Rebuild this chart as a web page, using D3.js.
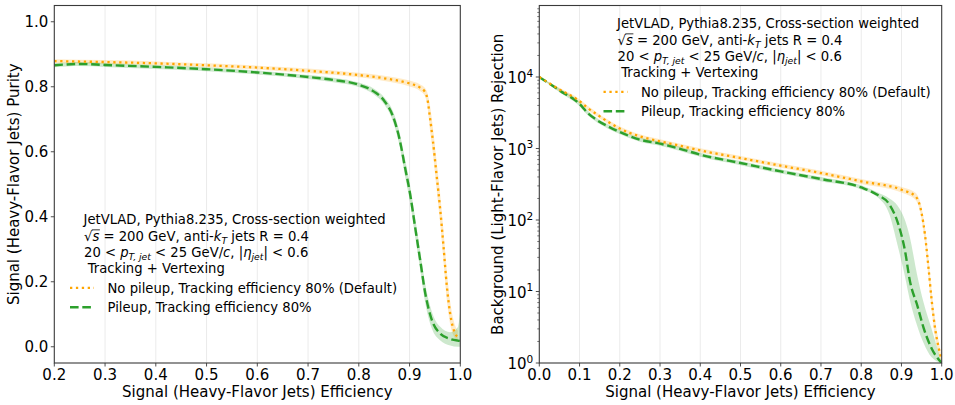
<!DOCTYPE html>
<html>
<head>
<meta charset="utf-8">
<script src="https://cdn.jsdelivr.net/npm/d3@7"></script>
<style>
  html, body { margin: 0; padding: 0; background: #fff; }
  svg { display: block; font-family: "DejaVu Sans", sans-serif; }
  text { white-space: pre; fill: #000; }
</style>
</head>
<body>
<svg id="chart" width="955" height="405"></svg>
<script>
// ---------- Purity vs efficiency (left panel) ----------
const purityNoPU_x   = [0.2, 0.3, 0.4, 0.5, 0.6, 0.7, 0.8, 0.85, 0.9, 0.92, 0.93, 0.935, 0.94, 0.946, 0.953, 0.96, 0.967, 0.973, 0.98, 0.99, 0.995];
const purityNoPU     = [0.879, 0.876, 0.872, 0.866, 0.859, 0.849, 0.836, 0.826, 0.810, 0.798, 0.785, 0.764, 0.708, 0.634, 0.532, 0.429, 0.307, 0.194, 0.102, 0.040, 0.030];
const purityNoPU_hi  = [0.885, 0.882, 0.878, 0.872, 0.865, 0.856, 0.843, 0.834, 0.819, 0.808, 0.797, 0.782, 0.745, 0.675, 0.575, 0.475, 0.355, 0.240, 0.140, 0.065, 0.050];
const purityNoPU_lo  = [0.873, 0.870, 0.866, 0.860, 0.853, 0.842, 0.829, 0.818, 0.801, 0.788, 0.772, 0.742, 0.670, 0.595, 0.490, 0.385, 0.260, 0.150, 0.070, 0.025, 0.015];

const purityPU_x  = [0.2, 0.25, 0.3, 0.4, 0.5, 0.6, 0.7, 0.75, 0.8, 0.83, 0.85, 0.868, 0.881, 0.891, 0.901, 0.911, 0.921, 0.931, 0.944, 0.96, 0.98, 0.995, 1.0];
const purityPU    = [0.866, 0.870, 0.867, 0.861, 0.854, 0.844, 0.830, 0.821, 0.806, 0.785, 0.757, 0.706, 0.634, 0.552, 0.471, 0.368, 0.266, 0.164, 0.082, 0.041, 0.024, 0.019, 0.018];
const purityPU_hi = [0.872, 0.876, 0.873, 0.867, 0.860, 0.850, 0.836, 0.828, 0.813, 0.794, 0.768, 0.722, 0.655, 0.578, 0.498, 0.397, 0.295, 0.193, 0.108, 0.062, 0.045, 0.060, 0.115];
const purityPU_lo = [0.860, 0.864, 0.861, 0.855, 0.848, 0.838, 0.824, 0.814, 0.799, 0.776, 0.746, 0.690, 0.613, 0.526, 0.444, 0.339, 0.237, 0.135, 0.056, 0.020, 0.004, 0.0, 0.0];

// ---------- Light-jet rejection vs efficiency (right panel) ----------
const rejNoPU_x  = [0, 0.05, 0.1, 0.12, 0.143, 0.17, 0.2, 0.25, 0.3, 0.35, 0.4, 0.5, 0.6, 0.7, 0.8, 0.9, 0.935, 0.95, 0.958, 0.967, 0.975, 0.983, 0.992, 1.0];
const rejNoPU    = [10000, 6700, 4600, 3700, 3000, 2380, 1900, 1480, 1260, 1090, 940, 736, 575, 454, 347, 265, 214, 125, 65, 22, 7.6, 3.2, 1.68, 1.1];
const rejNoPU_hi = [10000, 7100, 4900, 3950, 3200, 2540, 2030, 1580, 1345, 1165, 1005, 788, 615, 488, 375, 290, 240, 150, 82, 30, 10.5, 4.3, 2.1, 1.2];
const rejNoPU_lo = [10000, 6300, 4300, 3450, 2800, 2220, 1775, 1385, 1180, 1020, 880, 690, 538, 424, 320, 242, 190, 103, 50, 16, 5.5, 2.4, 1.35, 1.0];

const rejPU_x  = [0, 0.05, 0.1, 0.12, 0.143, 0.17, 0.2, 0.25, 0.3, 0.35, 0.4, 0.5, 0.6, 0.7, 0.8, 0.84, 0.87, 0.89, 0.91, 0.92, 0.94, 0.955, 0.975, 1.0];
const rejPU    = [10000, 6500, 4200, 3150, 2500, 2050, 1700, 1330, 1170, 990, 820, 627, 478, 374, 285, 225, 165, 95, 34, 15, 6.2, 3.1, 1.6, 1.0];
const rejPU_hi = [10000, 6900, 4500, 3400, 2680, 2190, 1820, 1420, 1250, 1057, 875, 670, 510, 400, 305, 245, 200, 160, 95, 60, 16, 7, 3, 1.0];
const rejPU_lo = [10000, 6100, 3900, 2930, 2330, 1910, 1590, 1240, 1090, 922, 765, 585, 446, 348, 268, 210, 120, 45, 15, 8, 3.2, 1.9, 1.2, 1.0];

// ---------- Axis ticks and labels ----------
const purityXTicks = [0.2, 0.3, 0.4, 0.5, 0.6, 0.7, 0.8, 0.9, 1.0];
const purityYTicks = [0.0, 0.2, 0.4, 0.6, 0.8, 1.0];
const rejXTicks = [0.0, 0.1, 0.2, 0.3, 0.4, 0.5, 0.6, 0.7, 0.8, 0.9, 1.0];
const rejYExponents = [0, 1, 2, 3, 4];
const xLabel = "Signal (Heavy-Flavor Jets) Efficiency";
const purityYLabel = "Signal (Heavy-Flavor Jets) Purity";
const rejYLabel = "Background (Light-Flavor Jets) Rejection";
const seriesNames = ["No pileup, Tracking efficiency 80% (Default)", "Pileup, Tracking efficiency 80%"];

const ORANGE = "#ffa500", GREEN = "#2ca02c";
const TICK_FS = 15, LABEL_FS = 15, LEG_FS = 13.2;

const svg = d3.select("#chart");
const TOP = 5.5, BOTTOM = 363;

function zip(xs, ys, lo, hi) {
  return xs.map((x, i) => ({ x, y: ys[i], lo: lo[i], hi: hi[i] }));
}

function richText(g, x, y, segs, size) {
  const t = g.append("text").attr("x", x).attr("y", y).style("font-size", size + "px");
  let shift = 0;
  segs.forEach(s => {
    const ts = t.append("tspan").text(s.t);
    const target = s.sub ? size * 0.24 : s.sup ? -size * 0.42 : 0;
    const dy = target - shift;
    if (dy) ts.attr("dy", dy);
    shift = target;
    if (s.sub || s.sup) ts.style("font-size", (size * 0.7) + "px");
    if (s.it) ts.style("font-style", "italic");
  });
  return t;
}

function drawPanel(opt) {
  const g = svg.append("g");
  const x = d3.scaleLinear().domain(opt.xDomain).range([opt.x0, opt.x1]);
  const y = opt.log
    ? d3.scaleLog().domain(opt.yDomain).range([BOTTOM, TOP])
    : d3.scaleLinear().domain(opt.yDomain).range([BOTTOM, TOP]);

  // vertical grid
  g.append("g").selectAll("line")
    .data(opt.xTicks.filter(v => v > opt.xDomain[0] + 1e-9 && v < opt.xDomain[1] - 1e-9))
    .join("line")
    .attr("x1", d => x(d)).attr("x2", d => x(d))
    .attr("y1", TOP).attr("y2", BOTTOM)
    .attr("stroke", "#ebebeb").attr("stroke-width", 1);

  const clipId = "clip" + opt.id;
  svg.append("clipPath").attr("id", clipId).append("rect")
    .attr("x", opt.x0).attr("y", TOP).attr("width", opt.x1 - opt.x0).attr("height", BOTTOM - TOP);
  const plot = g.append("g").attr("clip-path", `url(#${clipId})`);

  const area = d3.area().x(d => x(d.x)).y0(d => y(d.lo)).y1(d => y(d.hi)).curve(d3.curveMonotoneX);
  const line = d3.line().x(d => x(d.x)).y(d => y(d.y)).curve(d3.curveMonotoneX);

  plot.append("path").datum(opt.noPU).attr("d", area).attr("fill", ORANGE).attr("fill-opacity", 0.22);
  plot.append("path").datum(opt.pu).attr("d", area).attr("fill", GREEN).attr("fill-opacity", 0.24);
  plot.append("path").datum(opt.pu).attr("d", line).attr("fill", "none")
    .attr("stroke", GREEN).attr("stroke-width", 2.4).attr("stroke-dasharray", "8.6,3.7");
  plot.append("path").datum(opt.noPU).attr("d", line).attr("fill", "none")
    .attr("stroke", ORANGE).attr("stroke-width", 2.3).attr("stroke-dasharray", "2.3,3.6");

  // frame
  g.append("rect").attr("x", opt.x0).attr("y", TOP)
    .attr("width", opt.x1 - opt.x0).attr("height", BOTTOM - TOP)
    .attr("fill", "none").attr("stroke", "#3a3a3a").attr("stroke-width", 1.1);

  // x axis
  const xa = g.append("g");
  opt.xTicks.forEach(v => {
    xa.append("line").attr("x1", x(v)).attr("x2", x(v)).attr("y1", BOTTOM).attr("y2", BOTTOM + 3.5)
      .attr("stroke", "#3a3a3a").attr("stroke-width", 0.9);
    xa.append("text").attr("x", x(v)).attr("y", 379.5).attr("text-anchor", "middle")
      .style("font-size", TICK_FS + "px").text(v.toFixed(1));
  });
  g.append("text").attr("x", (opt.x0 + opt.x1) / 2).attr("y", 397).attr("text-anchor", "middle")
    .style("font-size", LABEL_FS + "px").text(xLabel);

  // y axis
  const ya = g.append("g");
  if (!opt.log) {
    opt.yTicks.forEach(v => {
      ya.append("line").attr("x1", opt.x0 - 3.5).attr("x2", opt.x0).attr("y1", y(v)).attr("y2", y(v))
        .attr("stroke", "#3a3a3a").attr("stroke-width", 0.9);
      ya.append("text").attr("x", opt.x0 - 6).attr("y", y(v) + 5.3).attr("text-anchor", "end")
        .style("font-size", TICK_FS + "px").text(v.toFixed(1));
    });
  } else {
    // minor ticks
    for (let e = 0; e < 5; e++) {
      for (let m = 2; m <= 9; m++) {
        const v = m * Math.pow(10, e);
        ya.append("line").attr("x1", opt.x0 - 2).attr("x2", opt.x0).attr("y1", y(v)).attr("y2", y(v))
          .attr("stroke", "#3a3a3a").attr("stroke-width", 0.7);
      }
    }
    opt.yTicks.forEach(e => {
      const v = Math.pow(10, e);
      ya.append("line").attr("x1", opt.x0 - 3.5).attr("x2", opt.x0).attr("y1", y(v)).attr("y2", y(v))
        .attr("stroke", "#3a3a3a").attr("stroke-width", 0.9);
      richText(ya, opt.x0 - 6, y(v) + 6, [{ t: "10" }, { t: String(e), sup: true }], TICK_FS)
        .attr("text-anchor", "end");
    });
  }
  g.append("text")
    .attr("transform", `translate(${opt.yLabelX},${(TOP + BOTTOM) / 2}) rotate(-90)`)
    .attr("text-anchor", "middle").style("font-size", LABEL_FS + "px").text(opt.yLabel);

  // legend block
  const L = g.append("g").attr("transform", `translate(${opt.legX},${opt.legY})`);
  L.append("text").attr("x", 0).attr("y", 0).style("font-size", LEG_FS + "px")
    .text("JetVLAD, Pythia8.235, Cross-section weighted");

  const l2 = richText(L, 0.5, 16.5, [
    { t: "√" }, { t: "s", it: true }, { t: " = 200 GeV, anti-" }, { t: "k", it: true },
    { t: "T", it: true, sub: true }, { t: " jets R = 0.4" }
  ], LEG_FS);
  // radical bar over s
  const n2 = l2.node();
  const sx0 = n2.getEndPositionOfChar(0).x - 0.6;
  const sx1 = n2.getEndPositionOfChar(1).x + 0.6;
  L.append("line").attr("x1", sx0).attr("x2", sx1).attr("y1", 16.5 - LEG_FS * 0.83).attr("y2", 16.5 - LEG_FS * 0.83)
    .attr("stroke", "#000").attr("stroke-width", 0.8);

  richText(L, 0.5, 33, [
    { t: "20 < " }, { t: "p", it: true }, { t: "T, jet", it: true, sub: true }, { t: " < 25 GeV/" },
    { t: "c", it: true }, { t: ", |" }, { t: "η", it: true }, { t: "jet", it: true, sub: true }, { t: "| < 0.6" }
  ], LEG_FS);

  L.append("text").attr("x", 0).attr("y", 49).style("font-size", LEG_FS + "px").text(" Tracking + Vertexing");

  L.append("line").attr("x1", -13.5).attr("x2", 10.5).attr("y1", 63.5).attr("y2", 63.5)
    .attr("stroke", ORANGE).attr("stroke-width", 2.3).attr("stroke-dasharray", "2.3,3.6");
  L.append("text").attr("x", 24).attr("y", 68.4).style("font-size", LEG_FS + "px").text(seriesNames[0]);
  L.append("line").attr("x1", -13.5).attr("x2", 10.5).attr("y1", 83).attr("y2", 83)
    .attr("stroke", GREEN).attr("stroke-width", 2.4).attr("stroke-dasharray", "8.6,3.7");
  L.append("text").attr("x", 24).attr("y", 88).style("font-size", LEG_FS + "px").text(seriesNames[1]);
}

drawPanel({
  id: "L", x0: 54.3, x1: 460.3, xDomain: [0.2, 1.0], yDomain: [-0.05, 1.05], log: false,
  xTicks: purityXTicks, yTicks: purityYTicks, yLabel: purityYLabel, yLabelX: 19,
  noPU: zip(purityNoPU_x, purityNoPU, purityNoPU_lo, purityNoPU_hi),
  pu: zip(purityPU_x, purityPU, purityPU_lo, purityPU_hi),
  legX: 83.5, legY: 224.3
});

drawPanel({
  id: "R", x0: 539.3, x1: 941.7, xDomain: [0, 1], yDomain: [1, 1e5], log: true,
  xTicks: rejXTicks, yTicks: rejYExponents, yLabel: rejYLabel, yLabelX: 503,
  noPU: zip(rejNoPU_x, rejNoPU, rejNoPU_lo, rejNoPU_hi),
  pu: zip(rejPU_x, rejPU, rejPU_lo, rejPU_hi),
  legX: 617, legY: 28.3
});
</script>
</body>
</html>
